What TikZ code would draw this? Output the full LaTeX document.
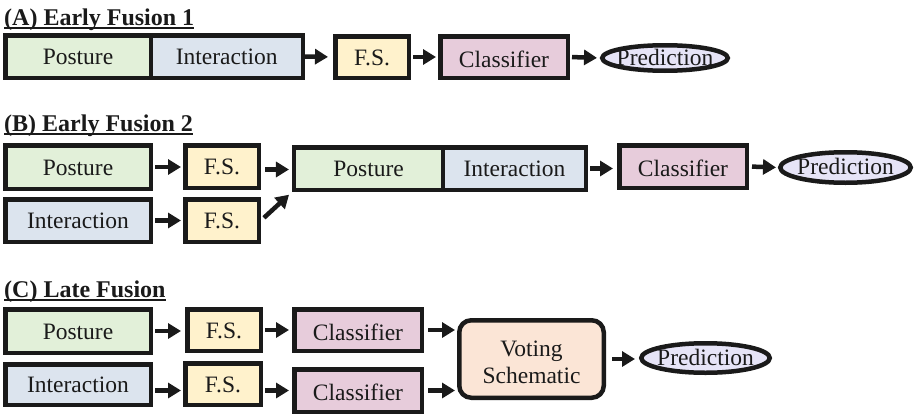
\documentclass[tikz,border=0pt]{standalone}
\usepackage{fontspec}
\setmainfont{Liberation Serif}
\usetikzlibrary{arrows.meta,shapes.geometric}
\definecolor{ink}{HTML}{1A1A1A}
\definecolor{cgreen}{HTML}{E2F0D9}
\definecolor{cblue}{HTML}{DCE4EE}
\definecolor{cyellow}{HTML}{FFF2CC}
\definecolor{cpink}{HTML}{E7CCDB}
\definecolor{clav}{HTML}{E6E4F7}
\definecolor{cpeach}{HTML}{FBE5D6}
\tikzset{
  box/.style={draw=ink, line width=4.5pt, rectangle, inner sep=0pt,
    text=ink, font=\fontsize{23.5}{27}\selectfont,
    text height=16.5pt, text depth=0pt},
  postbox/.style={box, fill=cgreen},
  interbox/.style={box, fill=cblue},
  fsbox/.style={box, fill=cyellow},
  clsbox/.style={box, fill=cpink, text height=20.5pt},
  votebox/.style={draw=ink, line width=4.5pt, rectangle, rounded corners=12pt,
    fill=cpeach, inner sep=0pt},
  votetxt/.style={text=ink, align=center, inner sep=0pt,
    font=\fontsize{23.5}{27}\selectfont, yshift=-3.5pt},
  predell/.style={draw=ink, line width=4.5pt, ellipse, fill=clav, inner sep=0pt},
  predtxt/.style={text=ink, inner sep=0pt, font=\fontsize{23.5}{27}\selectfont,
    text height=14pt, text depth=0pt},
  ttl/.style={anchor=base west, inner sep=0pt, text=ink,
    font=\fontsize{24}{28}\selectfont\bfseries},
  uline/.style={draw=ink, line width=2pt},
  arr/.style={draw=ink, line width=4.5pt, -{Triangle[length=13pt,width=15pt]}}
}
\begin{document}
\begin{tikzpicture}[x=1pt,y=-1pt]
\useasboundingbox (0,0) rectangle (915,415);

% ---------- (A) ----------
\node[ttl] (tA) at (4,25) {(A) Early Fusion 1};
\draw[uline] ([yshift=-2.5pt]tA.base west) -- ([yshift=-2.5pt]tA.base east);
\node[postbox, minimum width=145.5, minimum height=42.5] (pA) at (78,56.5) {Posture};
\node[interbox, minimum width=152, minimum height=42.5] (iA) at (226.75,56.5) {Interaction};
\node[fsbox, minimum width=73.5, minimum height=41.5] (fA) at (372,57) {F.S.};
\node[clsbox, minimum width=127.5, minimum height=41.5] (cA) at (504,57) {Classifier};
\node[predell, minimum width=125.5, minimum height=25.5,
  label={[predtxt]center:Prediction}] (prA) at (665,58) {};
\draw[arr, shorten >=5pt] (iA.east) -- (fA.west);
\draw[arr, shorten <=2pt, shorten >=2pt] (fA.east) -- (cA.west);
\draw[arr, shorten <=2pt, shorten >=3pt] (cA.east) -- (prA.west);

% ---------- (B) ----------
\node[ttl] (tB) at (4,131.5) {(B) Early Fusion 2};
\draw[uline] ([yshift=-2.5pt]tB.base west) -- ([yshift=-2.5pt]tB.base east);
\node[postbox, minimum width=145.5, minimum height=43.5] (pB1) at (78,167) {Posture};
\node[interbox, minimum width=145.5, minimum height=42.5] (iB1) at (78,220.5) {Interaction};
\node[fsbox, minimum width=73.5, minimum height=42.5] (fB1) at (222,166.5) {F.S.};
\node[fsbox, minimum width=73.5, minimum height=42.5] (fB2) at (222,220.5) {F.S.};
\node[postbox, minimum width=148.75, minimum height=42.5] (pB2) at (368.6,168.5) {Posture};
\node[interbox, minimum width=142.75, minimum height=42.5] (iB2) at (514.4,168.5) {Interaction};
\node[clsbox, minimum width=127.5, minimum height=42.5] (cB) at (683,166.5) {Classifier};
\node[predell, minimum width=130.5, minimum height=30.5,
  label={[predtxt]center:Prediction}] (prB) at (845.5,167.5) {};
\draw[arr, shorten <=2pt, shorten >=2pt] (pB1.east) -- (pB1.east -| fB1.west);
\draw[arr, shorten <=2pt, shorten >=2pt] (iB1.east) -- (iB1.east -| fB2.west);
\draw[arr, shorten <=4pt, shorten >=3pt] ([yshift=-3pt]fB1.east) -- ([yshift=-3pt]fB1.east -| pB2.west);
\draw[arr, shorten <=4pt, shorten >=4pt] (fB2.east) -- (pB2.south west);
\draw[arr, shorten <=2pt, shorten >=4pt] (iB2.east) -- (iB2.east -| cB.west);
\draw[arr, shorten <=3pt, shorten >=2pt] (cB.east) -- (prB.west);

% ---------- (C) ----------
\node[ttl] (tC) at (4,297) {(C) Late Fusion};
\draw[uline] ([yshift=-2.5pt]tC.base west) -- ([yshift=-2.5pt]tC.base east);
\node[postbox, minimum width=145.5, minimum height=43.5] (pC) at (78,331) {Posture};
\node[interbox, minimum width=145.5, minimum height=40.5] (iC) at (78,384.5) {Interaction};
\node[fsbox, minimum width=73.5, minimum height=41.5] (fC1) at (224,330) {F.S.};
\node[fsbox, minimum width=75.5, minimum height=41.5] (fC2) at (223,384) {F.S.};
\node[clsbox, minimum width=127.5, minimum height=41.5] (cC1) at (358,330) {Classifier};
\node[clsbox, minimum width=127.5, minimum height=42.5] (cC2) at (358,390.5) {Classifier};
\node[votebox, minimum width=144.5, minimum height=77.5,
  label={[votetxt]center:Voting\\Schematic}] (vote) at (531.5,359) {};
\node[predell, minimum width=128.5, minimum height=29.5,
  label={[predtxt]center:Prediction}] (prC) at (705.5,358) {};
\draw[arr, shorten <=2pt, shorten >=4pt] (pC.east) -- (pC.east -| fC1.west);
\draw[arr, shorten <=2pt, shorten >=2pt] (iC.east |- cC2.center) -- (fC2.west |- cC2.center);
\draw[arr, shorten <=2pt, shorten >=3pt] (fC1.east) -- (fC1.east -| cC1.west);
\draw[arr, shorten <=2pt, shorten >=3pt] (fC2.east |- cC2.center) -- (cC2.west);
\draw[arr, shorten <=4pt, shorten >=2pt] (cC1.east) -- (cC1.east -| vote.west);
\draw[arr, shorten <=4pt, shorten >=2pt] (cC2.east) -- (cC2.east -| vote.west);
\draw[arr, shorten <=6pt, shorten >=4pt] (vote.east) -- (vote.east -| prC.west);
\end{tikzpicture}
\end{document}
